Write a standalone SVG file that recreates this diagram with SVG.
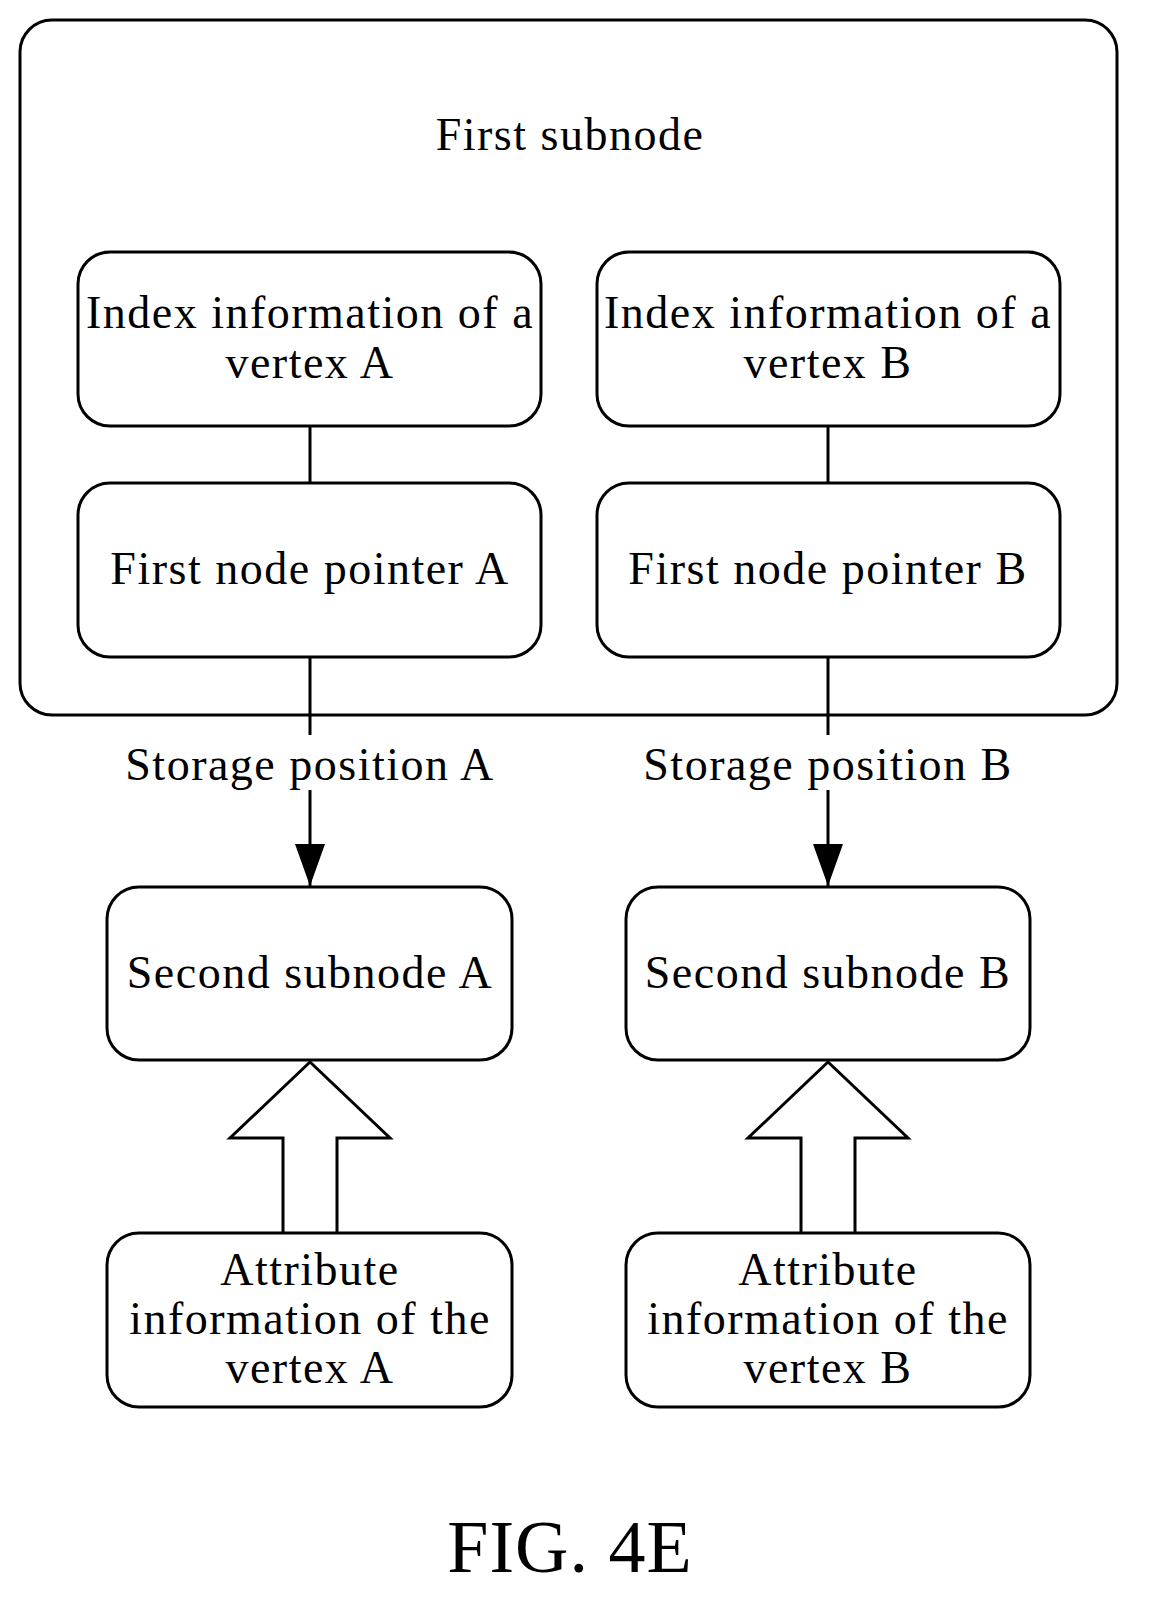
<svg xmlns="http://www.w3.org/2000/svg" width="1165" height="1604" viewBox="0 0 1165 1604">
<style>
.b{fill:#fff;stroke:#000;stroke-width:3}
text{font-family:"Liberation Serif",serif;font-size:46px;letter-spacing:1.5px;text-anchor:middle;fill:#000}
.l{stroke:#000;stroke-width:3;fill:none}
</style>
<defs>
<marker id="a2" markerWidth="42" markerHeight="30" refX="42" refY="15" orient="auto" markerUnits="userSpaceOnUse" viewBox="0 0 42 30"><path d="M0,0L42,15L0,30z"/></marker></defs>
<g id="first-subnode"><rect class="b" x="20" y="20" width="1097" height="695" rx="32"/><text x="570" y="150">First subnode</text></g>
<g id="connectors">
<line class="l" x1="310" y1="426" x2="310" y2="483"/>
<line class="l" x1="828" y1="426" x2="828" y2="483"/>
<line class="l" x1="310" y1="657" x2="310" y2="886" marker-end="url(#a2)"/>
<line class="l" x1="828" y1="657" x2="828" y2="886" marker-end="url(#a2)"/>
<path class="b" d="M283,1232V1138H230L310,1062L390,1138H337V1232"/>
<path class="b" d="M801,1232V1138H748L828,1062L908,1138H855V1232"/>
</g>
<g id="labels"><rect x="125" y="735" width="370" height="55" fill="#fff"/><text x="310" y="780">Storage position A</text>
<rect x="643" y="735" width="370" height="55" fill="#fff"/><text x="828" y="780">Storage position B</text></g>
<g id="idxA"><rect class="b" x="78" y="252" width="463" height="174" rx="32"/><text x="310" y="328">Index information of a</text><text x="310" y="378">vertex A</text></g>
<g id="idxB"><rect class="b" x="597" y="252" width="463" height="174" rx="32"/><text x="828" y="328">Index information of a</text><text x="828" y="378">vertex B</text></g>
<g id="ptrA"><rect class="b" x="78" y="483" width="463" height="174" rx="32"/><text x="310" y="584">First node pointer A</text></g>
<g id="ptrB"><rect class="b" x="597" y="483" width="463" height="174" rx="32"/><text x="828" y="584">First node pointer B</text></g>
<g id="secA"><rect class="b" x="107" y="887" width="405" height="173" rx="32"/><text x="310" y="988">Second subnode A</text></g>
<g id="secB"><rect class="b" x="626" y="887" width="404" height="173" rx="32"/><text x="828" y="988">Second subnode B</text></g>
<g id="attrA"><rect class="b" x="107" y="1233" width="405" height="174" rx="32"/><text x="310" y="1285">Attribute</text><text x="310" y="1334">information of the</text><text x="310" y="1383">vertex A</text></g>
<g id="attrB"><rect class="b" x="626" y="1233" width="404" height="174" rx="32"/><text x="828" y="1285">Attribute</text><text x="828" y="1334">information of the</text><text x="828" y="1383">vertex B</text></g>
<text x="570" y="1572" style="font-size:74px;letter-spacing:1px">FIG. 4E</text>
</svg>
